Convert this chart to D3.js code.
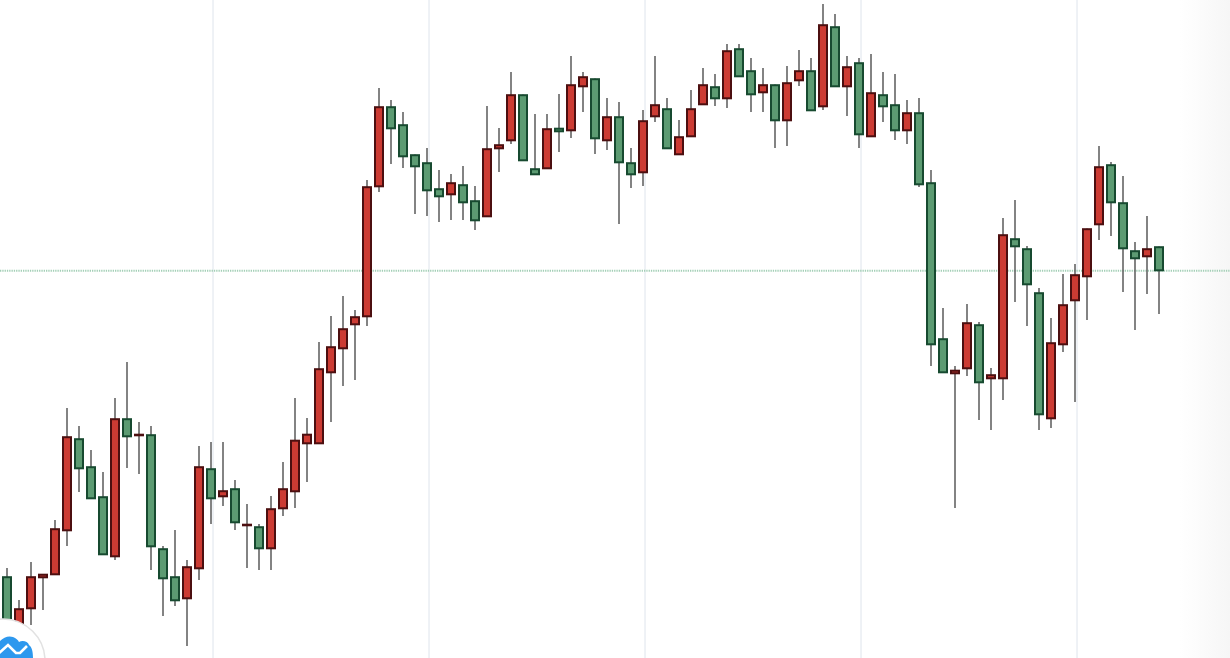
<!DOCTYPE html>
<html>
<head>
<meta charset="utf-8">
<script src="https://cdn.jsdelivr.net/npm/d3@7/dist/d3.min.js"></script>
<style>
html,body{margin:0;padding:0;background:#fff;overflow:hidden}
svg{display:block}
</style>
</head>
<body>
<svg id="chart" width="1230" height="658"></svg>
<script>
const open=[81.5,28,49,80,83,127,219.5,191.5,161.5,101,239.5,222,223.5,109.5,81.5,59,89,189.5,161,169.5,132,131.5,109,149,166,214,214,285,309,333,341,471,551.5,533.5,503.5,495.5,469.5,463,473.5,457.5,441,509,517,563.5,489.5,489,530,527,571,579.5,517,541.5,495.5,485,541,549.5,503,521,553,571.5,559,609.5,587.5,565,573.5,537,577,587.5,551,631.5,571,595.5,521,563.5,553.5,527,545.5,475.5,319.5,284,289,333.5,279,279,419.5,409.5,365.5,239,313,357,381,433,493.5,455.5,407.5,401,411.5];
const high=[90,58,96,84,138,250,232,208,186,260,296,236,232,112,128,98,212,216,216,178,154,134,162,196,260,240,316,342,362,348,478,570,558,546,503.5,510,488,484,492,472,552,530,586,563.5,544,544,564,602,586,579.5,560,556,510,548,602,560,538,568,590,584,614,614,600,590,573.5,592,608,600,654,644,602,600,604,586,584,558,560,488,350,292,354,336,290,440,458,412,370,340,384,394,429.5,512,496,482,416,442,411.5];
const low=[33,24,33,48,83,112,166,159,103,98,190,184,88,42,52,12,78,134,152,128,90,88,88,142,150,176,214,236,272,278,332,466,494,490,444,442,436,438,438,428,441,486,514,497,483,489,506,520,546,504,508,434,470,472,536,509,503,521,553,552,550,581,546,546,510,512,572,547,548,571,542,510,521,536,518,514,471,292,285,150,282,238,228,258,356,332,228,230,306,256,338,418,422,366,328,364,344];
const close=[36,49.5,81.5,84,129.5,221.5,189,159,103,239.5,221,224,111,79,57,91.5,191.5,159,167.5,135,134,109,149.5,169.5,218,224,289.5,311.5,329.5,341.5,471.5,551.5,529,501,491,467,461,475.5,455,437,509.5,513.5,563.5,497,483,529.5,526,573.5,581.5,519,541.5,495,483,537.5,553.5,509,521.5,549.5,573.5,559,607.5,581,563,573.5,537,575.5,587.5,547,633.5,571,591.5,523,565.5,551,527,545.5,473,313,285,288,335.5,275,283.5,423.5,411,373,243,315.5,353.5,383.5,429.5,491.5,455,409,399,409.5,387];
const gridIndexes=[17.17,35.17,53.17,71.17,89.17];
const lastPrice=387.3;

const W=1230,H=658;
const svg=d3.select('#chart');
const x=d3.scaleLinear().domain([0,96]).range([7,1159]);
const y=d3.scaleLinear().domain([0,H]).range([H,0]);
const candles=open.map((o,i)=>({i,o,h:high[i],l:low[i],c:close[i]}));

const defs=svg.append('defs');
const fade=defs.append('linearGradient').attr('id','fade');
fade.append('stop').attr('offset','0').attr('stop-color','#f6f6f6').attr('stop-opacity',0);
fade.append('stop').attr('offset','1').attr('stop-color','#f6f6f6').attr('stop-opacity',1);
svg.append('rect').attr('x',1180).attr('y',0).attr('width',50).attr('height',H).attr('fill','url(#fade)');

svg.append('g').selectAll('line').data(gridIndexes).join('line')
  .attr('x1',d=>x(d)).attr('x2',d=>x(d)).attr('y1',0).attr('y2',H)
  .attr('stroke','#edf0f5').attr('stroke-width',1.8);

svg.append('line').attr('x1',0).attr('x2',W).attr('y1',y(lastPrice)).attr('y2',y(lastPrice))
  .attr('stroke','#a3cfb6').attr('stroke-width',2).attr('stroke-dasharray','1.3 1');

const sw=2, bodyW=8;
const g=svg.append('g').selectAll('g').data(candles).join('g');
g.append('line')
  .attr('x1',d=>x(d.i)).attr('x2',d=>x(d.i))
  .attr('y1',d=>y(d.h)).attr('y2',d=>y(d.l))
  .attr('stroke','#646464').attr('stroke-width',1.6);
g.append('rect')
  .attr('x',d=>x(d.i)-bodyW/2).attr('width',bodyW)
  .attr('y',d=>y(Math.max(d.o,d.c))+sw/2-0.3)
  .attr('height',d=>Math.max(0.01,y(Math.min(d.o,d.c))-y(Math.max(d.o,d.c))-sw+0.6))
  .attr('fill',d=>d.c>=d.o?'#cc3b33':'#5c9b72')
  .attr('stroke',d=>d.c>=d.o?'#4c0f10':'#174a30')
  .attr('stroke-width',sw);

// badge in the lower-left corner
const badge=svg.append('g');
badge.append('circle').attr('cx',3).attr('cy',661).attr('r',42).attr('fill','#fff').attr('stroke','#e2e2e2').attr('stroke-width',1.6);
badge.append('path').attr('fill','#2d98ee')
  .attr('d','M-2,658 L-2,644 C1,638 8,635 13,637 C16,638 18,640 19,642 C22,640 28,641 29,645 C32,647 33,652 33,658 Z');
badge.append('path').attr('fill','none').attr('stroke','#fff').attr('stroke-width',2.6)
  .attr('d','M-2,654 L8,645 L16,653 L20,653 L27,646');
</script>
</body>
</html>
